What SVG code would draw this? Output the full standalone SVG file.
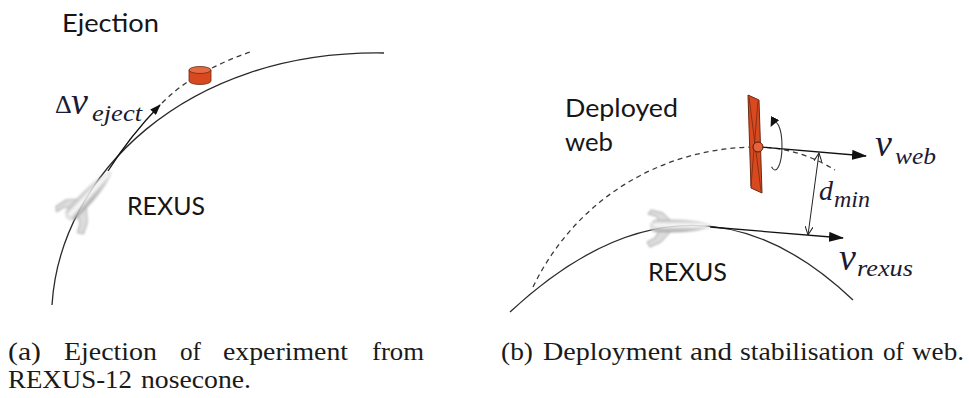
<svg xmlns="http://www.w3.org/2000/svg" width="969" height="398" viewBox="0 0 969 398">
  <style>
    .lbl { font-family: "Lato", "Open Sans", "Liberation Sans", sans-serif; font-size: 25px; fill: #161616; }
    .math { font-family: "Liberation Serif", "Times New Roman", serif; fill: #1b1b33; }
    .mi { font-style: italic; }
    .cap { font-family: "Liberation Serif", "Times New Roman", serif; font-size: 26px; fill: #1a1a1a; }
    .orbit { fill: none; stroke: #2a2a2a; stroke-width: 1.3; }
    .dash { fill: none; stroke: #3a3a3a; stroke-width: 1.3; stroke-dasharray: 5 4; }
    .vec { fill: none; stroke: #111; stroke-width: 1.3; }
  </style>
  <defs>
    <marker id="headL" markerUnits="userSpaceOnUse" viewBox="0 0 15 10" refX="14" refY="5" markerWidth="15" markerHeight="10" orient="auto">
      <path d="M0,0 L15,5 L0,10 Z" fill="#111"/>
    </marker>
    <marker id="headS" markerUnits="userSpaceOnUse" viewBox="0 0 11 8" refX="10" refY="4" markerWidth="11" markerHeight="8" orient="auto">
      <path d="M0,0 L11,4 L0,8 Z" fill="#111"/>
    </marker>
    <marker id="headOpen" markerUnits="userSpaceOnUse" viewBox="0 0 9 8" refX="8.5" refY="4" markerWidth="9" markerHeight="8" orient="auto-start-reverse">
      <path d="M0,0 L8.5,4 L0,8" fill="none" stroke="#222" stroke-width="1"/>
    </marker>
    <marker id="headRot" markerUnits="userSpaceOnUse" viewBox="0 0 10 9" refX="8" refY="4.5" markerWidth="10" markerHeight="9" orient="auto">
      <path d="M0,0 L10,4.5 L0,9 Z" fill="#111"/>
    </marker>
    <linearGradient id="hull" x1="0" y1="0" x2="0" y2="1">
      <stop offset="0" stop-color="#b8b8b8"/>
      <stop offset="0.45" stop-color="#ffffff"/>
      <stop offset="1" stop-color="#8e8e8e"/>
    </linearGradient>
    <filter id="soft" x="-20%" y="-40%" width="140%" height="180%">
      <feGaussianBlur stdDeviation="0.8"/>
    </filter>
    <!-- rocket pointing along +x, nose at the origin -->
    <g id="rocket" filter="url(#soft)" opacity="0.85">
      <path d="M-40,-5 L-48,-13 L-60,-16 L-63,-12 L-55,-10 L-52,-5 Z" fill="#d6d6d6" stroke="#858585" stroke-width="0.9"/>
      <path d="M-40,5 L-50,16 L-61,21 L-64,16 L-56,12 L-52,5 Z" fill="#d6d6d6" stroke="#858585" stroke-width="0.9"/>
      <path d="M0,0 C-8,-4 -22,-6.5 -48,-6 L-58,-5.5 L-58,5.5 L-48,6 C-22,6.5 -8,4 0,0 Z" fill="url(#hull)" stroke="#a0a0a0" stroke-width="0.6"/>
      <rect x="-61" y="-3.5" width="4" height="7" fill="#dcdcdc"/>
    </g>
  </defs>

  <!-- (a) ejection -->
  <g id="connectors-a">
    <path class="orbit" d="M52,305 C60,175 185,50 384,53"/>
    <path class="vec" d="M108,171 Q130,136 160,105" marker-end="url(#headS)"/>
    <path class="dash" d="M162,103 Q175,90 189,81"/>
    <path class="dash" d="M212,68 Q232,58 253,51"/>
  </g>
  <g id="rocket-a">
    <use href="#rocket" transform="translate(111,172) rotate(-47) scale(1.05)"/>
  </g>
  <g id="experiment">
    <path d="M189,70 L189,81 A11,3.5 0 0 0 211,81 L211,70 Z" fill="#d9491f" stroke="#6a2a12" stroke-width="0.8"/>
    <ellipse cx="200" cy="70" rx="11" ry="3.5" fill="#e56a42" stroke="#6a2a12" stroke-width="0.8"/>
  </g>
  <text class="lbl" x="62" y="32" textLength="97" lengthAdjust="spacingAndGlyphs">Ejection</text>
  <text class="lbl" x="127" y="215" textLength="78" lengthAdjust="spacingAndGlyphs">REXUS</text>
  <g id="label-dv" class="math">
    <text x="55" y="113" font-size="26">Δ</text>
    <text class="mi" x="71" y="114" font-size="38">v</text>
    <text class="mi" x="92" y="121" font-size="24" textLength="50" lengthAdjust="spacingAndGlyphs">eject</text>
  </g>

  <!-- (b) deployment -->
  <g id="connectors-b">
    <path class="orbit" d="M510,312 Q690,145 853,300"/>
    <path class="dash" d="M533,287 C575,200 660,148 755,147 C790,147 815,158 835,170"/>
    <path class="vec" d="M760,147 L866,156" marker-end="url(#headL)"/>
    <path class="vec" d="M710,227 L843,238" marker-end="url(#headL)"/>
    <path d="M819,153 L808,235" fill="none" stroke="#222" stroke-width="1" marker-start="url(#headOpen)" marker-end="url(#headOpen)"/>
    <path d="M771.5,166.8 A7,24 0 1 0 771.5,125.2" fill="none" stroke="#333" stroke-width="1.1" marker-end="url(#headRot)"/>
  </g>
  <g id="rocket-b">
    <use href="#rocket" transform="translate(711,226)"/>
  </g>
  <g id="web">
    <polygon points="748,95 759,100 762,193 751,188" fill="#d9491f" stroke="#6a2a12" stroke-width="1"/>
    <path d="M749,97 L761,191 M758,101 L751,186" stroke="#7a2a10" stroke-width="0.8" fill="none"/>
    <circle cx="758" cy="147" r="5" fill="#e4643c" stroke="#5a1a08" stroke-width="1"/>
  </g>
  <text class="lbl" x="565" y="117" textLength="113" lengthAdjust="spacingAndGlyphs">Deployed</text>
  <text class="lbl" x="565" y="151" textLength="48" lengthAdjust="spacingAndGlyphs">web</text>
  <text class="lbl" x="648" y="281" textLength="79" lengthAdjust="spacingAndGlyphs">REXUS</text>
  <g id="label-vweb" class="math">
    <text class="mi" x="875" y="156" font-size="38">v</text>
    <text class="mi" x="895" y="164" font-size="24" textLength="41" lengthAdjust="spacingAndGlyphs">web</text>
  </g>
  <g id="label-dmin" class="math">
    <text class="mi" x="819" y="200" font-size="28">d</text>
    <text class="mi" x="834" y="207" font-size="24" textLength="36" lengthAdjust="spacingAndGlyphs">min</text>
  </g>
  <g id="label-vrexus" class="math">
    <text class="mi" x="839" y="270" font-size="38">v</text>
    <text class="mi" x="857" y="276" font-size="24" textLength="56" lengthAdjust="spacingAndGlyphs">rexus</text>
  </g>

  <!-- captions -->
  <g id="caption-a" class="cap">
    <text x="8" y="360" textLength="33" lengthAdjust="spacingAndGlyphs">(a)</text>
    <text x="64" y="360" textLength="93" lengthAdjust="spacingAndGlyphs">Ejection</text>
    <text x="180" y="360" textLength="21" lengthAdjust="spacingAndGlyphs">of</text>
    <text x="223" y="360" textLength="125" lengthAdjust="spacingAndGlyphs">experiment</text>
    <text x="372" y="360" textLength="52" lengthAdjust="spacingAndGlyphs">from</text>
    <text x="8" y="388" textLength="124" lengthAdjust="spacingAndGlyphs">REXUS-12</text>
    <text x="141" y="388" textLength="110" lengthAdjust="spacingAndGlyphs">nosecone.</text>
  </g>
  <g id="caption-b" class="cap">
    <text x="501" y="360" textLength="32" lengthAdjust="spacingAndGlyphs">(b)</text>
    <text x="543" y="360" textLength="139" lengthAdjust="spacingAndGlyphs">Deployment</text>
    <text x="690" y="360" textLength="42" lengthAdjust="spacingAndGlyphs">and</text>
    <text x="740" y="360" textLength="134" lengthAdjust="spacingAndGlyphs">stabilisation</text>
    <text x="883" y="360" textLength="21" lengthAdjust="spacingAndGlyphs">of</text>
    <text x="912" y="360" textLength="52" lengthAdjust="spacingAndGlyphs">web.</text>
  </g>
</svg>
